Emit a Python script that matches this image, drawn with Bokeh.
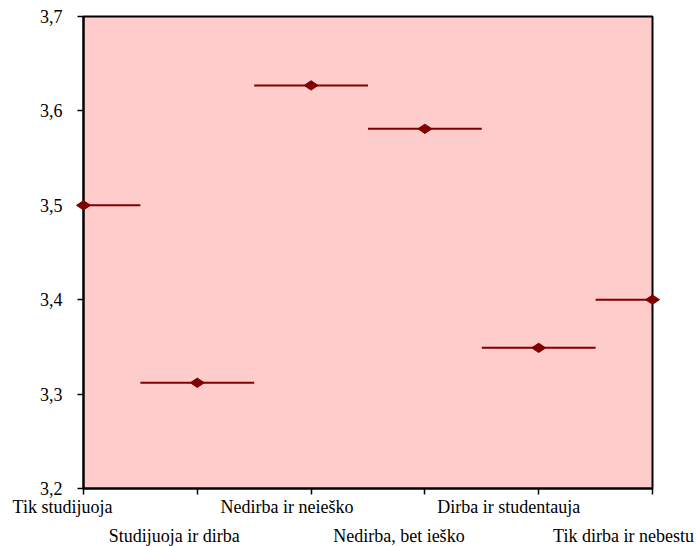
import math
from bokeh.plotting import figure
from bokeh.models import ColumnDataSource, FixedTicker, Range1d
from bokeh.core.properties import value
from bokeh.embed import file_html
from bokeh.resources import INLINE

# ---- data ----
categories = ["Tik studijuoja", "Studijuoja ir dirba", "Nedirba ir neieško",
              "Nedirba, bet ieško", "Dirba ir studentauja", "Tik dirba ir nebestu"]
means = [3.50, 3.312, 3.627, 3.581, 3.349, 3.40]
y_ticks = [3.2, 3.3, 3.4, 3.5, 3.6, 3.7]
y_tick_labels = ["3,2", "3,3", "3,4", "3,5", "3,6", "3,7"]

# ---- styles ----
DARK = "#800000"
FONT = "Liberation Serif"
FS = "18px"
label_dx = [-21, -23, -24, -26, -30, -29]   # horizontal label shifts (px)
row_dy = [18, 47]                            # offsets of the two label rows (px, downward)

xs = list(range(len(categories)))
source = ColumnDataSource(dict(
    x=xs, y=means,
    x0=[x - 0.5 for x in xs], x1=[x + 0.5 for x in xs],
))
label_source = ColumnDataSource(dict(
    x=xs, y=[y_ticks[0]] * len(xs), text=categories,
    dx=label_dx, dy=[row_dy[i % 2] for i in xs],
))

p = figure(width=696, height=546,
           x_range=Range1d(xs[0], xs[-1]), y_range=Range1d(y_ticks[0], y_ticks[-1]),
           output_backend="svg", toolbar_location=None,
           min_border_left=83, min_border_right=44, min_border_top=16, min_border_bottom=58)

p.background_fill_color = "#FFCCCC"
p.border_fill_color = "white"
p.outline_line_color = "black"
p.outline_line_width = 2
p.outline_line_alpha = 1.0
p.xgrid.visible = False
p.ygrid.visible = False

# x axis: ticks only (labels drawn staggered below)
p.xaxis.ticker = FixedTicker(ticks=xs)
p.xaxis.major_label_overrides = {x: "" for x in xs}
p.xaxis.major_tick_out = 6
p.xaxis.major_tick_in = 0
p.xaxis.minor_tick_line_color = None
p.xaxis.axis_line_width = 2
p.xaxis.major_tick_line_width = 1.5
p.xaxis.axis_line_color = "black"

# y axis
p.yaxis.ticker = FixedTicker(ticks=y_ticks)
p.yaxis.major_label_overrides = {t: l for t, l in zip(y_ticks, y_tick_labels)}
p.yaxis.major_label_text_font = FONT
p.yaxis.major_label_text_font_size = FS
p.yaxis.major_label_text_color = "black"
p.yaxis.major_label_standoff = 15
p.yaxis.major_tick_out = 6
p.yaxis.major_tick_in = 0
p.yaxis.minor_tick_line_color = None
p.yaxis.axis_line_width = 2
p.yaxis.major_tick_line_width = 1.5
p.yaxis.axis_line_color = "black"

# horizontal segments and diamond markers
p.segment(x0="x0", y0="y", x1="x1", y1="y", source=source,
          line_color=DARK, line_width=2)
p.scatter(x="x", y="y", source=source, marker="diamond", size=14,
          angle=math.pi / 2, fill_color=DARK, line_color=DARK, level="overlay")

# staggered category labels (overlay level so they are not clipped to the frame)
p.text(x="x", y="y", text="text", source=label_source,
       x_offset="dx", y_offset="dy",
       text_align="center", text_baseline="alphabetic",
       text_font=value(FONT), text_font_size=value(FS), text_color="black",
       level="overlay")

open("out.html", "w").write(file_html(p, INLINE))
